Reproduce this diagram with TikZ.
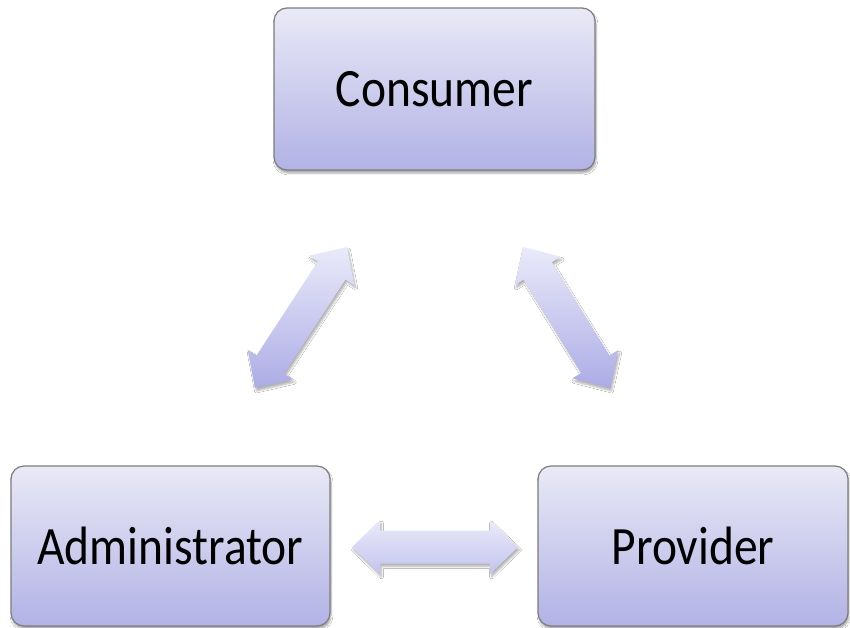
\documentclass[tikz,border=0pt]{standalone}
\usepackage{graphicx}
\usepackage{fontspec}
\setmainfont{Carlito}
\usetikzlibrary{calc,shadows.blur}
\definecolor{boxtop}{RGB}{233,233,246}
\definecolor{boxbot}{RGB}{178,178,230}
\definecolor{boxline}{RGB}{125,125,125}
\definecolor{arrtop}{RGB}{234,234,250}
\definecolor{arrbot}{RGB}{172,172,230}
\definecolor{arrbotH}{RGB}{196,196,238}
\tikzset{
  box/.style={draw=boxline, line width=1.2pt, rounded corners=13pt,
    top color=boxtop, bottom color=boxbot,
    blur shadow={shadow xshift=1pt, shadow yshift=-3pt, shadow blur steps=6, shadow opacity=35},
    inner sep=0pt, font=\fontsize{54}{60}\selectfont},
  blockarrow/.style={top color=arrtop, bottom color=arrbot, draw=none,
    blur shadow={shadow xshift=1.5pt, shadow yshift=-3pt, shadow blur steps=6, shadow opacity=30}},
}
\newcommand\dblarrow[3][]{%
  \path[blockarrow,#1] (#2)
    -- ($(#2)!28pt!(#3)!27pt!90:(#3)$)
    -- ($(#2)!28pt!(#3)!16.5pt!90:(#3)$)
    -- ($(#3)!28pt!(#2)!16.5pt!-90:(#2)$)
    -- ($(#3)!28pt!(#2)!27pt!-90:(#2)$)
    -- (#3)
    -- ($(#3)!28pt!(#2)!27pt!90:(#2)$)
    -- ($(#3)!28pt!(#2)!16.5pt!90:(#2)$)
    -- ($(#2)!28pt!(#3)!16.5pt!-90:(#3)$)
    -- ($(#2)!28pt!(#3)!27pt!-90:(#3)$)
    -- cycle;}
\begin{document}
\begin{tikzpicture}[x=1pt,y=-1pt]
  \useasboundingbox (0,0) rectangle (850,628);
  \fill[white] (0,0) rectangle (850,628);
  % boxes
  \node[box, minimum width=321pt, minimum height=162pt] (con) at (434.5,89) {\scalebox{0.88}[1]{Consumer}};
  \node[box, minimum width=319pt, minimum height=160pt] (adm) at (170.5,546) {\scalebox{0.88}[1]{Administrator}};
  \node[box, minimum width=310pt, minimum height=160pt] (pro) at (693,546) {\scalebox{0.88}[1]{Provider}};
  % arrow tips
  \coordinate (l1) at (255,388);
  \coordinate (l2) at (347,247);
  \coordinate (r1) at (523,247);
  \coordinate (r2) at (610,388);
  \coordinate (h1) at (352,547);
  \coordinate (h2) at (518,547);
  % arrows
  \dblarrow{l1}{l2}
  \dblarrow{r1}{r2}
  \dblarrow[bottom color=arrbotH]{h1}{h2}
\end{tikzpicture}
\end{document}
